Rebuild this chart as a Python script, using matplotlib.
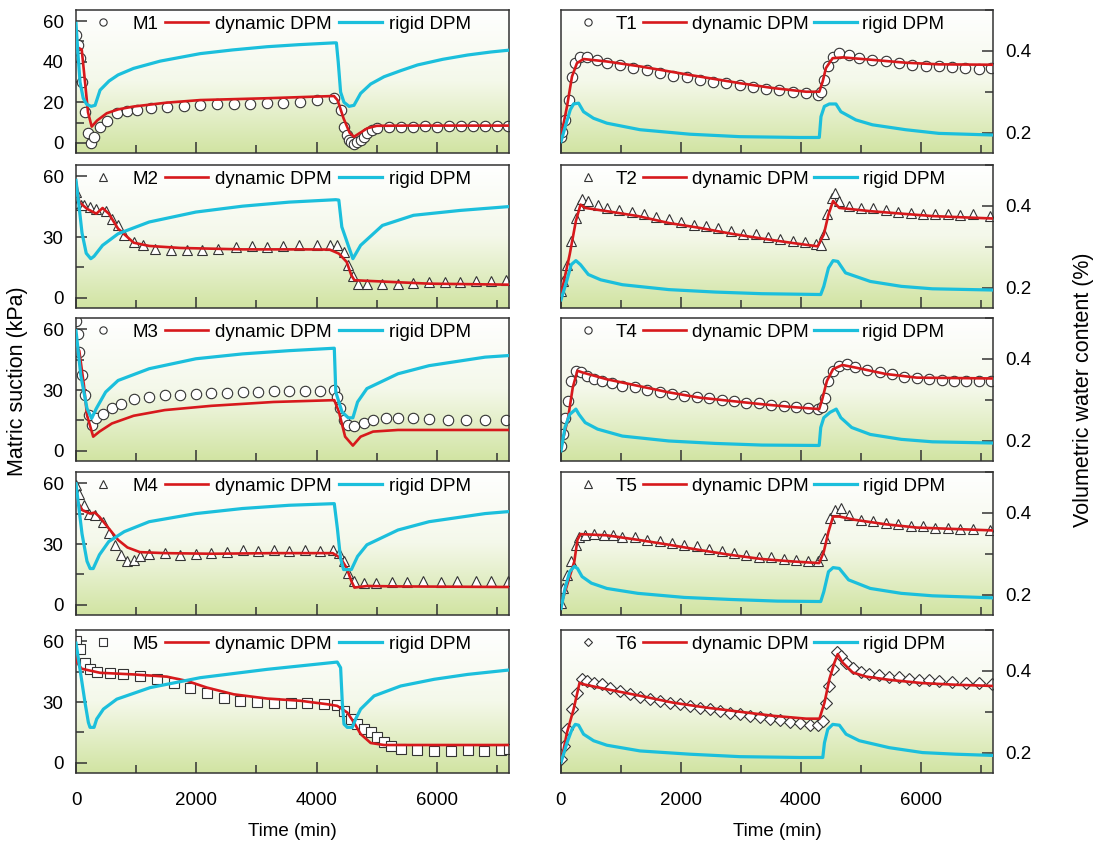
import numpy as np
import matplotlib.pyplot as plt
from matplotlib.colors import LinearSegmentedColormap
from matplotlib.ticker import MultipleLocator

plt.rcParams['font.family'] = ['Liberation Sans', 'DejaVu Sans']

# ---- matric suction (kPa), left column ----
m1_obs_t = [0, 30, 60, 100, 150, 200, 250, 300, 400, 520, 680, 850, 1010, 1250, 1510, 1800, 2070, 2350, 2620, 2900,
            3180, 3450, 3730, 4000, 4290, 4400, 4456, 4500, 4540, 4580, 4622, 4680, 4733, 4790, 4844, 4920, 5010, 5200,
            5400, 5600, 5800, 6000, 6200, 6400, 6600, 6800, 7000, 7180]
m1_obs_v = [53, 48, 42, 30, 15, 5, 0, 3, 8, 11, 14.6, 15.5, 16.3, 17, 17.5, 18, 18.7, 19, 19.2, 19.3,
            19.5, 19.8, 20.3, 21, 22, 16, 8, 4, 1.5, 0.5, -0.5, 0.5, 1.5, 3, 5, 6.5, 7.2, 7.8,
            8, 8, 8.2, 8, 8.3, 8.2, 8.5, 8.3, 8.5, 8.5]
m1_dyn_t = [0, 95, 150, 200, 261, 350, 511, 700, 956, 1500, 2067, 3178, 4289, 4350, 4450, 4550, 4622, 4700, 4844,
            5000, 5500, 6500, 7200]
m1_dyn_v = [47.4, 46, 30, 15, 8, 11, 14.6, 16.5, 17.9, 19.8, 21.1, 22, 23.1, 21, 12, 5, 3, 4.5, 7.2,
            8.4, 8.5, 8.5, 8.5]
m1_rig_t = [0, 30, 67, 120, 178, 250, 317, 400, 550, 700, 956, 1400, 2067, 2600, 3178, 3700, 4289, 4330, 4360, 4400,
            4456, 4540, 4622, 4733, 4900, 5122, 5400, 5678, 6100, 6511, 6900, 7200]
m1_rig_v = [58.9, 45, 30, 22, 19, 18, 18.5, 26, 30.5, 33.5, 36.7, 40.3, 44, 45.8, 47.4, 48.4, 49.3, 49.3, 40, 25,
            20, 18, 18.5, 24.4, 29, 32.6, 35.6, 38.4, 41.2, 43.3, 44.8, 45.7]

m2_obs_t = [0, 28, 80, 131, 235, 338, 493, 597, 700, 803, 958, 1113, 1320, 1579, 1838, 2097, 2356, 2666, 2924, 3183,
            3442, 3700, 4010, 4217, 4346, 4449, 4527, 4604, 4682, 4837, 5095, 5354, 5612, 5871, 6129, 6388, 6646,
            6900, 7150]
m2_obs_v = [52, 47, 46, 45.6, 44.8, 44, 43, 39, 35.7, 30.8, 27.5, 25.9, 24.3, 23.4, 23.4, 23.6, 24, 25, 25.6, 25,
            25.6, 25.9, 26.2, 26.2, 25.9, 22.6, 16, 11, 7, 6.6, 7, 7, 7.4, 7.9, 7.9, 8, 8.2, 8.3, 8.8]
m2_dyn_t = [0, 54, 183, 338, 442, 545, 700, 958, 1217, 1734, 2769, 3803, 4217, 4372, 4501, 4579, 4630, 4837, 5871, 7200]
m2_dyn_v = [57, 47.2, 43.9, 41.5, 44.3, 41.5, 34.1, 27.2, 25.6, 24.6, 23.9, 23.9, 23.8, 21.8, 17.7, 11.1, 8.7, 8.4, 7, 6.5]
m2_rig_t = [0, 40, 100, 170, 246, 300, 442, 700, 1217, 1993, 2769, 3545, 4320, 4370, 4420, 4526, 4604, 4733, 5095,
            5612, 6387, 7200]
m2_rig_v = [57.9, 48, 32, 22, 19.3, 20.5, 25.9, 31.6, 37.4, 42.3, 45.2, 47.2, 48.4, 48.2, 35, 25.9, 19.3, 25.9, 35.7,
            40.7, 43.1, 45]

m3_obs_t = [0, 28, 54, 106, 157, 209, 260, 338, 442, 597, 752, 958, 1217, 1475, 1734, 1993, 2251, 2510, 2769, 3027,
            3285, 3545, 3803, 4062, 4295, 4346, 4398, 4449, 4527, 4630, 4785, 4940, 5147, 5354, 5612, 5871, 6181,
            6491, 6802, 7150]
m3_obs_v = [64, 57.6, 48.6, 37.2, 27.4, 17.6, 12.7, 16, 18.4, 20.9, 23.3, 25.4, 26.6, 27.4, 27.7, 28.2, 28.7, 28.7,
            29, 29, 29.4, 29.4, 29.5, 29.5, 29.9, 26.6, 20.9, 15.2, 12.7, 12.4, 13.5, 15.2, 16, 16.3, 16, 15.5, 15.2,
            15.2, 15.2, 15]
m3_dyn_t = [0, 54, 132, 183, 286, 390, 597, 958, 1475, 2251, 3285, 4295, 4372, 4475, 4604, 4733, 4940, 5354, 7200]
m3_dyn_v = [52, 49.4, 32.3, 17.6, 7, 9.5, 13.5, 17.3, 20.1, 22.2, 24.1, 25, 19.2, 7, 2.6, 7, 9.5, 10.3, 10.3]
m3_rig_t = [0, 80, 183, 260, 338, 493, 700, 1217, 1993, 2769, 3545, 4295, 4320, 4423, 4527, 4604, 4682, 4837, 5354,
            5871, 6802, 7200]
m3_rig_v = [59.2, 37.2, 20.9, 16, 20.9, 29, 34.7, 40.5, 45.4, 47.8, 49.4, 50.6, 29, 19.2, 16.3, 16.3, 24.1, 30.7, 38,
            42, 46.2, 47]

m4_obs_t = [0, 54, 131, 209, 312, 442, 545, 648, 752, 855, 958, 1062, 1217, 1475, 1734, 1993, 2251, 2510, 2769, 3027,
            3285, 3545, 3803, 4062, 4269, 4372, 4449, 4527, 4630, 4785, 4992, 5250, 5508, 5767, 6077, 6336, 6646,
            6900, 7180]
m4_obs_v = [58.9, 54.8, 49.1, 45, 44.2, 41, 35.3, 29.6, 24.7, 21.5, 22.3, 23.9, 25, 25.5, 24.7, 25, 25.5, 26.3, 27.2,
            26.5, 27.2, 26.6, 27.2, 26.7, 27.2, 25.5, 21.5, 15.8, 11.7, 10.9, 10.9, 11.4, 11.2, 11.7, 11.2, 12, 11.7,
            11.8, 12]
m4_dyn_t = [0, 28, 106, 235, 312, 390, 545, 700, 855, 1062, 1475, 2251, 3285, 4269, 4398, 4501, 4579, 4630, 4837,
            5354, 7200]
m4_dyn_v = [57.2, 50.7, 46.7, 45, 45.5, 43.4, 37.7, 32, 28.3, 26, 25.5, 25.2, 25.5, 25.5, 23.1, 18.2, 11.7, 8.5, 9.3,
            9.1, 8.8]
m4_rig_t = [0, 100, 183, 235, 286, 390, 545, 803, 1217, 1993, 2769, 3545, 4295, 4346, 4398, 4449, 4579, 4682, 4837,
            5354, 5871, 6802, 7200]
m4_rig_v = [59.7, 35, 21.5, 17.9, 17.9, 24.7, 31.2, 36.1, 41, 45, 47.5, 49.1, 49.9, 37.7, 23.1, 17.4, 17.4, 23.9,
            29.6, 36.9, 41, 45, 46]

m5_obs_t = [0, 67, 150, 233, 344, 567, 789, 1067, 1344, 1622, 1900, 2178, 2456, 2733, 3011, 3289, 3567, 3844, 4122,
            4344, 4456, 4567, 4678, 4789, 4900, 5011, 5122, 5233, 5400, 5678, 5956, 6233, 6511, 6789, 7067, 7200]
m5_obs_v = [60, 55.9, 49.3, 46.1, 44.8, 44.1, 43.6, 42.8, 41.5, 39.5, 37.1, 34.3, 32.2, 30.6, 30.1, 29.7, 29.4, 29.7,
            28.9, 28.4, 25.7, 21.6, 19.1, 16.7, 15, 12.6, 10.5, 8.5, 6.9, 6.5, 6, 6, 6.4, 6, 6.4, 6.9]
m5_dyn_t = [0, 22, 94, 400, 956, 1511, 1844, 2178, 2622, 3178, 3733, 4178, 4344, 4511, 4622, 4733, 4900, 5122, 7200]
m5_dyn_v = [57.5, 49.3, 46.4, 44.4, 43.6, 42.5, 40.4, 37.1, 33.8, 31.7, 30.6, 28.9, 28.1, 24.8, 19.9, 14.2, 9.8, 8.8,
            8.8]
m5_rig_t = [0, 67, 150, 206, 233, 300, 344, 456, 678, 1233, 2067, 3178, 4344, 4400, 4428, 4456, 4511, 4594, 4650,
            4733, 4956, 5400, 5956, 6511, 7206]
m5_rig_v = [59, 46, 29.7, 19.9, 17.5, 17.5, 21.6, 26.5, 31.4, 37.1, 42, 46.1, 49.7, 46.9, 29.7, 19.1, 17.5, 17.5, 21.6,
            26.5, 33, 37.9, 41.2, 43.6, 45.8]

# ---- volumetric water content, right column ----
t1_obs_t = [0, 17, 72, 127, 183, 238, 321, 432, 598, 764, 985, 1206, 1428, 1649, 1871, 2092, 2313, 2535, 2756, 2977,
            3199, 3420, 3641, 3863, 4084, 4278, 4333, 4389, 4444, 4527, 4638, 4804, 4970, 5191, 5412, 5634, 5855,
            6077, 6298, 6519, 6740, 6962, 7172]
t1_obs_v = [0.189, 0.202, 0.231, 0.280, 0.337, 0.370, 0.386, 0.386, 0.378, 0.371, 0.366, 0.358, 0.353, 0.347, 0.339,
            0.336, 0.329, 0.325, 0.321, 0.317, 0.311, 0.306, 0.303, 0.300, 0.298, 0.292, 0.300, 0.329, 0.362, 0.386,
            0.394, 0.390, 0.382, 0.378, 0.374, 0.370, 0.366, 0.363, 0.362, 0.360, 0.358, 0.356, 0.358]
t1_dyn_t = [0, 100, 183, 266, 376, 764, 1317, 2147, 2977, 3531, 4084, 4305, 4361, 4416, 4527, 4693, 5191, 5744, 6298,
            7200]
t1_dyn_v = [0.190, 0.264, 0.337, 0.370, 0.380, 0.374, 0.362, 0.341, 0.321, 0.309, 0.300, 0.300, 0.325, 0.358, 0.382,
            0.384, 0.378, 0.371, 0.367, 0.366]
t1_rig_t = [0, 72, 155, 210, 293, 376, 542, 764, 1317, 2147, 2977, 3973, 4305, 4333, 4389, 4472, 4582, 4665, 4914,
            5191, 5744, 6298, 7200]
t1_rig_v = [0.178, 0.215, 0.256, 0.270, 0.272, 0.251, 0.235, 0.223, 0.207, 0.196, 0.190, 0.188, 0.188, 0.239, 0.264,
            0.270, 0.270, 0.251, 0.231, 0.219, 0.207, 0.198, 0.194]

t2_obs_t = [0, 41, 93, 170, 248, 300, 351, 455, 610, 764, 971, 1178, 1384, 1591, 1798, 2004, 2211, 2417, 2624, 2831,
            3037, 3244, 3450, 3657, 3864, 4070, 4251, 4329, 4380, 4432, 4509, 4561, 4638, 4793, 5000, 5207, 5413,
            5620, 5826, 6033, 6240, 6446, 6653, 6860, 7150]
t2_obs_v = [0.191, 0.215, 0.256, 0.314, 0.371, 0.403, 0.416, 0.412, 0.403, 0.395, 0.391, 0.385, 0.379, 0.372, 0.367,
            0.361, 0.354, 0.350, 0.345, 0.338, 0.332, 0.330, 0.323, 0.318, 0.314, 0.312, 0.307, 0.305, 0.330, 0.379,
            0.420, 0.432, 0.412, 0.399, 0.395, 0.394, 0.389, 0.385, 0.383, 0.381, 0.381, 0.379, 0.377, 0.379, 0.376]
t2_dyn_t = [0, 145, 248, 325, 403, 764, 1281, 1798, 2314, 2831, 3347, 3864, 4277, 4380, 4458, 4535, 4638, 5155, 5671,
            6188, 7200]
t2_dyn_v = [0.183, 0.281, 0.363, 0.403, 0.395, 0.387, 0.375, 0.358, 0.346, 0.332, 0.320, 0.309, 0.301, 0.330, 0.379,
            0.412, 0.395, 0.387, 0.381, 0.375, 0.369]
t2_rig_t = [0, 93, 170, 248, 325, 455, 661, 1023, 1798, 2572, 3347, 4329, 4380, 4458, 4535, 4613, 4742, 5155, 5671,
            6188, 7200]
t2_rig_v = [0.170, 0.215, 0.256, 0.266, 0.256, 0.232, 0.219, 0.207, 0.195, 0.189, 0.185, 0.183, 0.203, 0.248, 0.266,
            0.264, 0.236, 0.215, 0.203, 0.197, 0.194]

t4_obs_t = [0, 31, 67, 119, 170, 248, 325, 429, 558, 687, 842, 1023, 1229, 1436, 1643, 1849, 2056, 2262, 2469, 2676,
            2882, 3089, 3296, 3502, 3709, 3915, 4122, 4277, 4354, 4406, 4458, 4535, 4638, 4768, 4897, 5103, 5310,
            5517, 5723, 5930, 6136, 6343, 6550, 6756, 6960, 7170]
t4_obs_v = [0.187, 0.215, 0.256, 0.297, 0.346, 0.371, 0.367, 0.358, 0.350, 0.345, 0.340, 0.334, 0.330, 0.323, 0.318,
            0.314, 0.309, 0.307, 0.304, 0.299, 0.297, 0.293, 0.291, 0.287, 0.285, 0.282, 0.279, 0.277, 0.281, 0.305,
            0.346, 0.371, 0.383, 0.387, 0.381, 0.372, 0.367, 0.363, 0.356, 0.353, 0.350, 0.348, 0.346, 0.346, 0.345,
            0.345]
t4_dyn_t = [0, 119, 196, 274, 351, 764, 1281, 1798, 2314, 2831, 3347, 3864, 4303, 4354, 4432, 4535, 4690, 4897, 5413,
            5930, 7200]
t4_dyn_v = [0.183, 0.256, 0.330, 0.371, 0.367, 0.350, 0.334, 0.318, 0.305, 0.297, 0.289, 0.282, 0.277, 0.301, 0.346,
            0.375, 0.385, 0.379, 0.363, 0.354, 0.352]
t4_rig_t = [0, 67, 145, 248, 300, 403, 610, 1023, 1798, 2572, 3347, 4303, 4329, 4380, 4483, 4587, 4664, 4845, 5155,
            5671, 6188, 7200]
t4_rig_v = [0.175, 0.232, 0.264, 0.277, 0.264, 0.244, 0.228, 0.211, 0.199, 0.193, 0.189, 0.188, 0.232, 0.256, 0.269,
            0.277, 0.256, 0.232, 0.215, 0.203, 0.197, 0.194]

t5_obs_t = [0, 31, 93, 170, 248, 300, 403, 558, 713, 868, 1023, 1229, 1436, 1643, 1849, 2056, 2262, 2469, 2676, 2882,
            3089, 3296, 3502, 3709, 3915, 4122, 4277, 4354, 4406, 4483, 4561, 4664, 4793, 5000, 5207, 5413, 5620,
            5826, 6033, 6240, 6446, 6653, 6860, 7150]
t5_obs_v = [0.179, 0.215, 0.248, 0.281, 0.322, 0.342, 0.346, 0.348, 0.346, 0.345, 0.342, 0.340, 0.334, 0.330, 0.326,
            0.322, 0.318, 0.312, 0.307, 0.301, 0.297, 0.293, 0.291, 0.287, 0.285, 0.282, 0.281, 0.297, 0.338, 0.387,
            0.408, 0.412, 0.395, 0.383, 0.379, 0.375, 0.372, 0.369, 0.367, 0.364, 0.363, 0.361, 0.360, 0.358]
t5_dyn_t = [0, 119, 222, 274, 325, 764, 1281, 1798, 2314, 2831, 3347, 3864, 4303, 4380, 4458, 4535, 4638, 4897, 5413,
            5930, 7200]
t5_dyn_v = [0.175, 0.232, 0.281, 0.334, 0.348, 0.345, 0.334, 0.322, 0.309, 0.297, 0.287, 0.281, 0.277, 0.305, 0.354,
            0.391, 0.391, 0.383, 0.372, 0.364, 0.357]
t5_rig_t = [0, 67, 145, 222, 274, 351, 506, 764, 1281, 2056, 2831, 3605, 4329, 4380, 4458, 4535, 4638, 4793, 5155,
            5671, 6188, 7200]
t5_rig_v = [0.166, 0.215, 0.256, 0.269, 0.264, 0.244, 0.228, 0.215, 0.203, 0.193, 0.188, 0.184, 0.183, 0.207, 0.256,
            0.266, 0.264, 0.236, 0.215, 0.203, 0.197, 0.192]

t6_obs_t = [0, 44, 100, 183, 266, 349, 432, 543, 681, 819, 986, 1152, 1318, 1484, 1650, 1816, 1982, 2148, 2315, 2481,
            2647, 2813, 2979, 3145, 3311, 3477, 3643, 3809, 3976, 4142, 4280, 4363, 4418, 4474, 4529, 4601, 4668,
            4751, 4862, 5000, 5138, 5305, 5471, 5637, 5803, 5969, 6135, 6301, 6523, 6744, 6966, 7176]
t6_obs_v = [0.184, 0.216, 0.257, 0.306, 0.347, 0.380, 0.376, 0.371, 0.367, 0.359, 0.351, 0.343, 0.337, 0.331, 0.327,
            0.322, 0.318, 0.314, 0.310, 0.306, 0.302, 0.298, 0.294, 0.290, 0.286, 0.283, 0.280, 0.275, 0.272, 0.267,
            0.267, 0.278, 0.322, 0.363, 0.404, 0.445, 0.437, 0.420, 0.406, 0.398, 0.393, 0.389, 0.386, 0.384, 0.380,
            0.378, 0.377, 0.376, 0.373, 0.371, 0.371, 0.367]
t6_dyn_t = [0, 100, 210, 310, 376, 764, 1318, 1872, 2425, 2979, 3533, 4086, 4308, 4391, 4474, 4557, 4612, 4695, 4862,
            5083, 5471, 6024, 6578, 7200]
t6_dyn_v = [0.176, 0.249, 0.306, 0.371, 0.367, 0.355, 0.339, 0.322, 0.310, 0.300, 0.290, 0.283, 0.283, 0.322, 0.380,
            0.420, 0.441, 0.420, 0.396, 0.386, 0.378, 0.370, 0.366, 0.363]
t6_rig_t = [0, 100, 183, 238, 293, 376, 543, 764, 1318, 2148, 2979, 3976, 4363, 4391, 4446, 4529, 4640, 4751, 4972,
            5471, 6024, 6578, 7200]
t6_rig_v = [0.176, 0.224, 0.257, 0.269, 0.267, 0.245, 0.229, 0.218, 0.204, 0.196, 0.190, 0.188, 0.188, 0.224, 0.257,
            0.269, 0.267, 0.245, 0.229, 0.212, 0.200, 0.196, 0.193]

left_panels = [
    ("M1", "o", m1_obs_t, m1_obs_v, m1_dyn_t, m1_dyn_v, m1_rig_t, m1_rig_v),
    ("M2", "^", m2_obs_t, m2_obs_v, m2_dyn_t, m2_dyn_v, m2_rig_t, m2_rig_v),
    ("M3", "o", m3_obs_t, m3_obs_v, m3_dyn_t, m3_dyn_v, m3_rig_t, m3_rig_v),
    ("M4", "^", m4_obs_t, m4_obs_v, m4_dyn_t, m4_dyn_v, m4_rig_t, m4_rig_v),
    ("M5", "s", m5_obs_t, m5_obs_v, m5_dyn_t, m5_dyn_v, m5_rig_t, m5_rig_v),
]
right_panels = [
    ("T1", "o", t1_obs_t, t1_obs_v, t1_dyn_t, t1_dyn_v, t1_rig_t, t1_rig_v),
    ("T2", "^", t2_obs_t, t2_obs_v, t2_dyn_t, t2_dyn_v, t2_rig_t, t2_rig_v),
    ("T4", "o", t4_obs_t, t4_obs_v, t4_dyn_t, t4_dyn_v, t4_rig_t, t4_rig_v),
    ("T5", "^", t5_obs_t, t5_obs_v, t5_dyn_t, t5_dyn_v, t5_rig_t, t5_rig_v),
    ("T6", "D", t6_obs_t, t6_obs_v, t6_dyn_t, t6_dyn_v, t6_rig_t, t6_rig_v),
]

W, H = 1101, 848
row_tops = [10, 165, 318, 472, 630]
row_h = 143
FS = 13.5
RED = '#d7191c'
CYAN = '#1bbfdc'
bg = LinearSegmentedColormap.from_list('bg', ['#ffffff', '#f4f8ea', '#d1e4a2'])

fig = plt.figure(figsize=(W / 100, H / 100), dpi=100)


def draw(ax, p, side, last):
    name, mk, ot, ov, dt, dv, rt, rv = p
    ax.imshow(np.linspace(0, 1, 256).reshape(-1, 1), cmap=bg, aspect='auto',
              extent=[0, 1, 0, 1], transform=ax.transAxes, zorder=0)
    ms = 6.5 if mk == 'D' else 7.5
    ax.plot(ot, ov, ls='none', marker=mk, ms=ms, mfc='white', mec='#333333', mew=0.8, label=name, zorder=2)
    ax.plot(dt, dv, color=RED, lw=1.9, label='dynamic DPM', zorder=3)
    ax.plot(rt, rv, color=CYAN, lw=2.3, label='rigid DPM', zorder=3)
    ax.set_xlim(0, 7200)
    ax.xaxis.set_major_locator(MultipleLocator(2000))
    ax.xaxis.set_minor_locator(MultipleLocator(1000))
    if side == 'L':
        ax.set_ylim(-5, 65.5)
        if name == 'M1':
            ax.yaxis.set_major_locator(MultipleLocator(20))
            ax.yaxis.set_minor_locator(MultipleLocator(10))
        else:
            ax.yaxis.set_major_locator(MultipleLocator(30))
            ax.yaxis.set_minor_locator(MultipleLocator(15))
        ax.tick_params(which='both', direction='in', left=True, right=False, top=False, bottom=True,
                       labelleft=True, labelbottom=last, labelsize=FS)
        leg_kw = dict(handletextpad=0.4, columnspacing=0.35)
    else:
        ax.set_ylim(0.15, 0.5)
        ax.yaxis.set_major_locator(MultipleLocator(0.2))
        ax.yaxis.set_minor_locator(MultipleLocator(0.1))
        ax.tick_params(which='both', direction='in', left=False, right=True, top=False, bottom=True,
                       labelleft=False, labelright=True, labelbottom=last, labelsize=FS)
        leg_kw = dict(handletextpad=0.3, columnspacing=0.3)
    ax.tick_params(axis='y', which='both', pad=9)
    ax.tick_params(axis='x', which='both', pad=14)
    ax.tick_params(which='major', length=8, width=1.1, color='#333333')
    ax.tick_params(which='minor', length=6, width=1.1, color='#333333')
    for s in ax.spines.values():
        s.set_color('#333333')
        s.set_linewidth(1.1)
    ax.legend(loc='upper left', ncol=3, frameon=False, fontsize=FS, handlelength=2.3,
              borderaxespad=0.1, borderpad=0.2, markerscale=0.7, **leg_kw)
    if last:
        ax.set_xlabel('Time (min)', fontsize=FS, labelpad=10)


for i in range(5):
    b = 1 - (row_tops[i] + row_h) / H
    axl = fig.add_axes([76 / W, b, 433 / W, row_h / H])
    draw(axl, left_panels[i], 'L', i == 4)
    axr = fig.add_axes([561 / W, b, 432 / W, row_h / H])
    draw(axr, right_panels[i], 'R', i == 4)

fig.text(18 / W, 1 - 381 / H, 'Matric suction (kPa)', rotation=90, ha='center', va='center', fontsize=15.5)
fig.text(1083 / W, 1 - 390 / H, 'Volumetric water content (%)', rotation=90, ha='center', va='center', fontsize=15.5)

fig.savefig('out.png', dpi=100)
